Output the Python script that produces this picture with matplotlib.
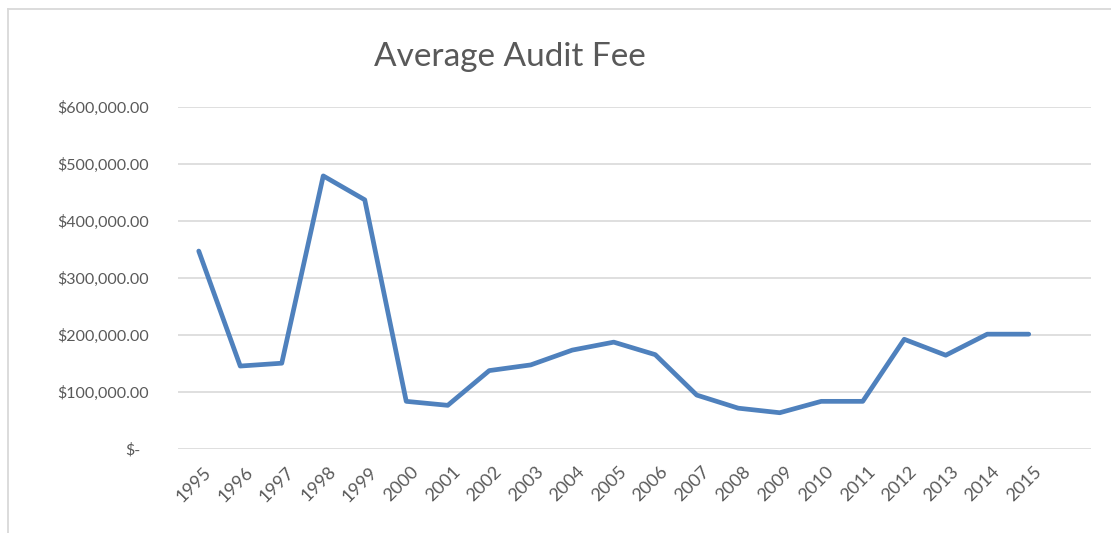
import matplotlib.pyplot as plt
from matplotlib.lines import Line2D
from matplotlib.ticker import FuncFormatter
import matplotlib.transforms as mtransforms

# Datos del gráfico
years = ['1995', '1996', '1997', '1998', '1999', '2000', '2001', '2002', '2003',
         '2004', '2005', '2006', '2007', '2008', '2009', '2010', '2011', '2012',
         '2013', '2014', '2015']
avg_fee = [347000, 145000, 150000, 479000, 437000, 83000, 76000, 137000, 147000,
           173000, 187000, 165000, 94000, 71000, 63000, 83000, 83000, 192000,
           164000, 201000, 201000]
y_ticks = [0, 100000, 200000, 300000, 400000, 500000, 600000]

TEXT = '#595959'
GRID = '#D9D9D9'
BLUE = '#4F81BD'

plt.rcParams['font.family'] = ['Lato', 'DejaVu Sans']

fig = plt.figure(figsize=(11.11, 5.33), dpi=100)
ax = fig.add_axes([178 / 1111, 1 - 448.6 / 533, (1091 - 178) / 1111, (448.6 - 107) / 533])

x = list(range(len(years)))
ax.plot(x, avg_fee, color=BLUE, lw=3.4, solid_capstyle='round', solid_joinstyle='round', zorder=3)

ax.set_xlim(-0.5, len(years) + 0.5)   # hay una categoría vacía al final
ax.set_ylim(0, 600000)
ax.set_yticks(y_ticks)
ax.yaxis.set_major_formatter(FuncFormatter(lambda v, p: '$-' if v == 0 else f'${v:,.2f}'))
ax.grid(axis='y', color=GRID, lw=1.2)
ax.set_axisbelow(True)
for s in ax.spines.values():
    s.set_visible(False)

ax.set_xticks(x)
ax.set_xticklabels(years, rotation=45, ha='right', va='center', rotation_mode='anchor')
ax.tick_params(axis='x', length=0, pad=15, labelsize=13, labelcolor=TEXT)
ax.tick_params(axis='y', length=0, pad=21, labelsize=11.5, labelcolor=TEXT)

off = mtransforms.ScaledTranslation(10 / 100, 0, fig.dpi_scale_trans)
for lab in ax.get_xticklabels():
    lab.set_transform(lab.get_transform() + off)
zero_off = mtransforms.ScaledTranslation(-8 / 100, 0, fig.dpi_scale_trans)
lab0 = ax.get_yticklabels()[0]
lab0.set_transform(lab0.get_transform() + zero_off)

fig.text(510 / 1111, 1 - 57 / 533, 'Average Audit Fee', ha='center', va='center',
         fontsize=24, color=TEXT)

# Borde del área del gráfico
fig.add_artist(Line2D([7.5 / 1111, 7.5 / 1111], [0, 1 - 8.5 / 533], color=GRID, lw=1.3))
fig.add_artist(Line2D([7.5 / 1111, 1], [1 - 8.5 / 533, 1 - 8.5 / 533], color=GRID, lw=1.3))

fig.savefig('out.png', dpi=100, facecolor='white')
